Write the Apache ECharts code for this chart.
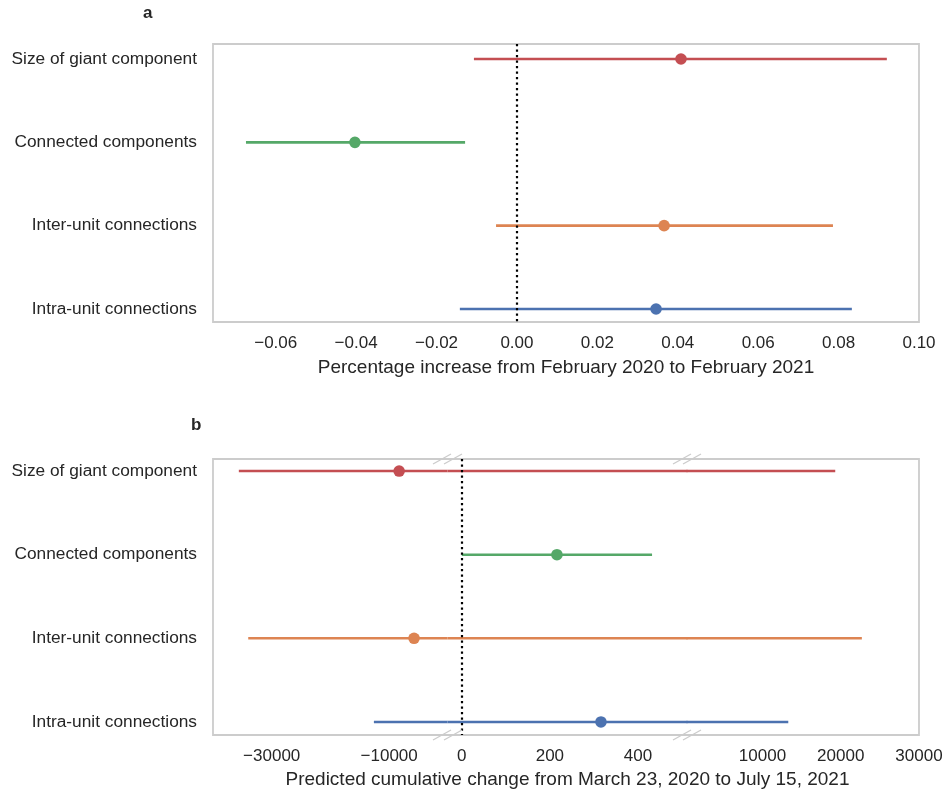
<!DOCTYPE html>
<html><head><meta charset="utf-8">
<script src="https://cdn.jsdelivr.net/npm/echarts@6/dist/echarts.min.js"></script>
<style>html,body{margin:0;padding:0;background:#fff}#c{width:947px;height:793px}</style>
</head><body><div id="c"></div>
<script>
// ---------- data ----------
const categories = ['Size of giant component', 'Connected components', 'Inter-unit connections', 'Intra-unit connections'];
const colors = ['#c44e52', '#55a868', '#dd8452', '#4c72b0'];

// panel a: percentage increase
const aLow  = [-0.0107, -0.0674, -0.0052, -0.0142];
const aMid  = [ 0.0408, -0.0403,  0.0366,  0.0346];
const aHigh = [ 0.0920, -0.0129,  0.0786,  0.0833];
const aTicks = [-0.06, -0.04, -0.02, 0, 0.02, 0.04, 0.06, 0.08, 0.10];
const aRange = [-0.0756, 0.10];

// panel b: predicted cumulative change (broken axis)
const bLow  = [-35600,   0, -34000, -12600];
const bMid  = [ -8300, 216,  -5760,    316];
const bHigh = [ 19300, 432,  22700,  13300];
const bRanges = [[-40000, -1000], [-20, 500], [1000, 30000]];
const bTicks = [[-30000, -10000], [0, 200, 400], [10000, 20000, 30000]];

// ---------- layout ----------
const FONT = 'Liberation Sans, Arial, sans-serif';
const TXT = '#262626';
const FRAME = '#cccccc';
const A = {left: 213, top: 44, width: 706, height: 278};
const B = {top: 459, height: 276, segs: [{left: 213, width: 229}, {left: 453, width: 229}, {left: 692, width: 227}]};
const yRangeA = [-0.18, 3.156];
const yRangeB = [-0.144, 3.156];

const fmtMinus = s => String(s).replace('-', '\u2212');

const rowsA = categories.map((c, i) => [aLow[i], aMid[i], aHigh[i], i]);
const rowsB = categories.map((c, i) => [bLow[i], bMid[i], bHigh[i], i]);

function renderA(params, api) {
  const lo = api.value(0), mid = api.value(1), hi = api.value(2), idx = api.value(3);
  const p1 = api.coord([lo, idx]), p2 = api.coord([hi, idx]), pm = api.coord([mid, idx]);
  return {type: 'group', children: [
    {type: 'line', shape: {x1: p1[0], y1: p1[1], x2: p2[0], y2: p2[1]}, style: {stroke: colors[idx], lineWidth: 2.6}},
    {type: 'circle', shape: {cx: pm[0], cy: pm[1], r: 5.8}, style: {fill: colors[idx]}}
  ]};
}
function makeRenderB(k) {
  return function (params, api) {
    const lo = api.value(0), mid = api.value(1), hi = api.value(2), idx = api.value(3);
    const mn = bRanges[k][0], mx = bRanges[k][1];
    if (hi < mn || lo > mx) return null;
    const cs = params.coordSys;
    const y = api.coord([mn, idx])[1];
    const ext = 5.5;
    const x1 = lo < mn ? cs.x - ext : api.coord([lo, idx])[0];
    const x2 = hi > mx ? cs.x + cs.width + ext : api.coord([hi, idx])[0];
    const ch = [{type: 'line', shape: {x1: x1, y1: y, x2: x2, y2: y}, style: {stroke: colors[idx], lineWidth: 2.6}}];
    if (mid >= mn && mid <= mx) {
      ch.push({type: 'circle', shape: {cx: api.coord([mid, idx])[0], cy: y, r: 5.8}, style: {fill: colors[idx]}});
    }
    return {type: 'group', children: ch};
  };
}

const grids = [
  {left: A.left, top: A.top, width: A.width, height: A.height, show: true, borderColor: FRAME, borderWidth: 1.8, backgroundColor: 'transparent'}
];
B.segs.forEach(s => grids.push({left: s.left, top: B.top, width: s.width, height: B.height, show: false}));

const tickStyle = {color: TXT, fontSize: 17, fontFamily: FONT};
const catStyle = {color: TXT, fontSize: 17.3, fontFamily: FONT};
const nameStyle = {color: TXT, fontSize: 19, fontFamily: FONT};

const xAxes = [{
  type: 'value', gridIndex: 0, min: aRange[0], max: aRange[1],
  axisLine: {show: false}, axisTick: {show: false}, splitLine: {show: false},
  axisLabel: Object.assign({customValues: aTicks, margin: 13, formatter: v => fmtMinus(v.toFixed(2))}, tickStyle),
  name: 'Percentage increase from February 2020 to February 2021', nameLocation: 'middle', nameGap: 36,
  nameTextStyle: nameStyle
}];
B.segs.forEach((s, k) => xAxes.push({
  type: 'value', gridIndex: k + 1, min: bRanges[k][0], max: bRanges[k][1],
  axisLine: {show: false}, axisTick: {show: false}, splitLine: {show: false},
  axisLabel: Object.assign({customValues: bTicks[k], margin: 13, showMinLabel: true, showMaxLabel: true, formatter: v => fmtMinus(v)}, tickStyle),
  name: k === 1 ? 'Predicted cumulative change from March 23, 2020 to July 15, 2021' : '',
  nameLocation: 'middle', nameGap: 35,
  nameTextStyle: nameStyle
}));

const yAxes = [{
  type: 'value', gridIndex: 0, min: yRangeA[0], max: yRangeA[1], inverse: true,
  axisLine: {show: false}, axisTick: {show: false}, splitLine: {show: false},
  axisLabel: Object.assign({customValues: [0, 1, 2, 3], margin: 16, formatter: v => categories[v]}, catStyle)
}];
B.segs.forEach((s, k) => yAxes.push({
  type: 'value', gridIndex: k + 1, min: yRangeB[0], max: yRangeB[1], inverse: true,
  axisLine: {show: false}, axisTick: {show: false}, splitLine: {show: false},
  axisLabel: Object.assign({show: k === 0, customValues: [0, 1, 2, 3], margin: 16, formatter: v => categories[v]}, catStyle)
}));

const zeroLine = (xi, yi) => ({
  type: 'line', xAxisIndex: xi, yAxisIndex: yi, data: [], z: 10, silent: true,
  markLine: {silent: true, symbol: 'none', label: {show: false},
    lineStyle: {color: '#000', type: [2.2, 3.3], width: 2.2, opacity: 1},
    data: [{xAxis: 0}]}
});

const series = [
  {type: 'custom', xAxisIndex: 0, yAxisIndex: 0, data: rowsA, renderItem: renderA, encode: {x: [0, 1, 2], y: 3}, clip: false, z: 3},
  zeroLine(0, 0)
];
B.segs.forEach((s, k) => series.push({
  type: 'custom', xAxisIndex: k + 1, yAxisIndex: k + 1, data: rowsB, renderItem: makeRenderB(k),
  encode: {x: [0, 1, 2], y: 3}, clip: false, z: 3
}));
series.push(zeroLine(2, 2));

// frame and break marks for panel b
const bRight = B.segs[2].left + B.segs[2].width;
const graphics = [
  {type: 'rect', shape: {x: B.segs[0].left, y: B.top, width: bRight - B.segs[0].left, height: B.height},
   style: {fill: 'none', stroke: FRAME, lineWidth: 1.8}, z: 1},
  {type: 'text', left: 143, top: 5, style: {text: 'a', font: 'bold 17px ' + FONT, fill: TXT}},
  {type: 'text', left: 191, top: 417, style: {text: 'b', font: 'bold 17px ' + FONT, fill: TXT}}
];
const breakXs = [B.segs[0].left + B.segs[0].width, B.segs[1].left, B.segs[1].left + B.segs[1].width, B.segs[2].left];
breakXs.forEach(x => {
  [B.top, B.top + B.height].forEach(y => {
    graphics.push({type: 'line', shape: {x1: x - 9, y1: y + 5, x2: x + 9, y2: y - 5},
      style: {stroke: FRAME, lineWidth: 1.3}, z: 20});
  });
});

const chart = echarts.init(document.getElementById('c'), null, {renderer: 'canvas'});
chart.setOption({
  backgroundColor: '#ffffff',
  animation: false,
  grid: grids,
  xAxis: xAxes,
  yAxis: yAxes,
  series: series,
  graphic: graphics
});
</script>
</body></html>
